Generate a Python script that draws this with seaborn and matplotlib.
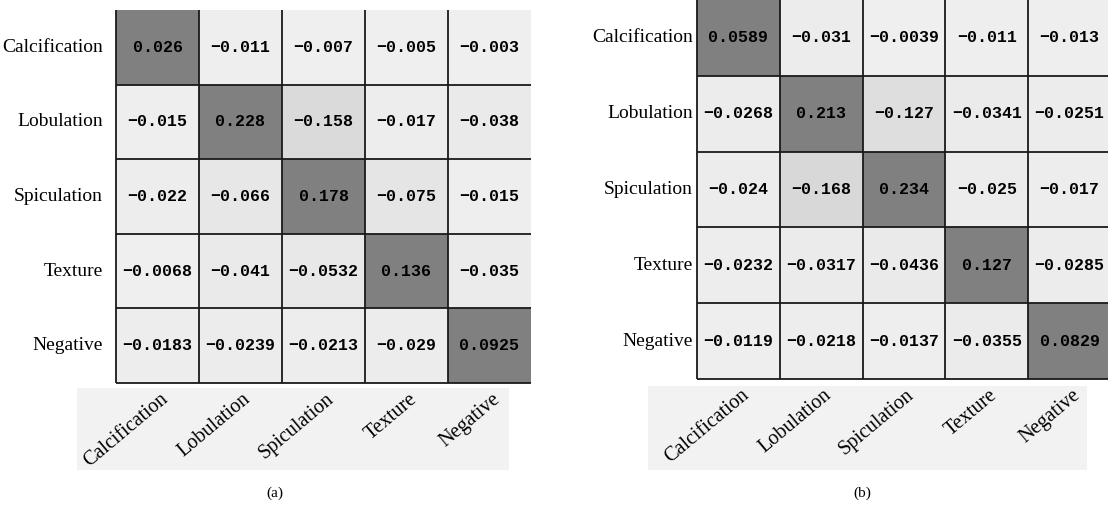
import numpy as np
import pandas as pd
import seaborn as sns
import matplotlib
matplotlib.use("Agg")
import matplotlib.pyplot as plt
from matplotlib.colors import LinearSegmentedColormap
from matplotlib.patches import Rectangle
from matplotlib.transforms import ScaledTranslation

# Feature names shared by both matrices
features = ["Calcification", "Lobulation", "Spiculation", "Texture", "Negative"]

# Matrix (a)
values_a = [
    [0.026, -0.011, -0.007, -0.005, -0.003],
    [-0.015, 0.228, -0.158, -0.017, -0.038],
    [-0.022, -0.066, 0.178, -0.075, -0.015],
    [-0.0068, -0.041, -0.0532, 0.136, -0.035],
    [-0.0183, -0.0239, -0.0213, -0.029, 0.0925],
]

# Matrix (b)
values_b = [
    [0.0589, -0.031, -0.0039, -0.011, -0.013],
    [-0.0268, 0.213, -0.127, -0.0341, -0.0251],
    [-0.024, -0.168, 0.234, -0.025, -0.017],
    [-0.0232, -0.0317, -0.0436, 0.127, -0.0285],
    [-0.0119, -0.0218, -0.0137, -0.0355, 0.0829],
]

captions = ["(a)", "(b)"]

sns.set_theme(style="white")
plt.rcParams["font.family"] = ["Liberation Serif", "DejaVu Serif"]

W, H = 1108, 509
fig = plt.figure(figsize=(W / 100, H / 100), dpi=100)


def px_rect(x0, y0, x1, y1):
    """Figure-fraction rectangle from pixel edges measured from the top-left."""
    return [x0 / W, 1 - y1 / H, (x1 - x0) / W, (y1 - y0) / H]


# Negative weights fade from light grey to near white, positive weights are mid grey
lo, light, dark = 0.805, 0.94, 0.5
cdict = {c: [(0.0, lo, lo), (0.5, light, dark), (1.0, dark, dark)]
         for c in ("red", "green", "blue")}
cmap = LinearSegmentedColormap("weights", cdict)

panels = [
    dict(values=values_a, rect=(116, 10, 531, 383), ypad=9.5,
         box=(77, 388, 509, 470), cap_x=275),
    dict(values=values_b, rect=(697, 0, 1111, 379), ypad=3,
         box=(648, 386, 1087, 470), cap_x=862),
]

for panel, caption in zip(panels, captions):
    ax = fig.add_axes(px_rect(*panel["rect"]))
    df = pd.DataFrame(panel["values"], index=features, columns=features)
    labels = df.map(lambda v: repr(v).replace("-", "\u2212"))
    sns.heatmap(
        df, ax=ax, cmap=cmap, vmin=-0.25, vmax=0.25, cbar=False,
        annot=labels, fmt="", linewidths=0,
        annot_kws=dict(family=["Liberation Mono", "DejaVu Sans Mono"],
                       weight="bold", size=12, color="black"),
    )
    n = len(features)
    # cell borders: left and bottom edges plus the inner grid
    ax.hlines(np.arange(1, n + 1), 0, n, colors="#1a1a1a", lw=1.3, clip_on=False)
    ax.vlines(np.arange(0, n), 0, n, colors="#1a1a1a", lw=1.3, clip_on=False)

    ax.tick_params(axis="both", length=0)
    ax.tick_params(axis="y", pad=panel["ypad"])
    ax.tick_params(axis="x", pad=10)
    ax.set_yticklabels(features, rotation=0, fontsize=14, color="black")
    ax.set_xticklabels(features, rotation=40, ha="right", va="center",
                       rotation_mode="anchor", fontsize=14.5, color="black")
    shift = ScaledTranslation(8 / 100, 0, fig.dpi_scale_trans)
    for lbl in ax.get_xticklabels():
        lbl.set_transform(lbl.get_transform() + shift)
    ax.set_xlabel("")
    ax.set_ylabel("")

    # light panel behind the rotated column names
    bx0, by0, bx1, by1 = panel["box"]
    fig.add_artist(Rectangle((bx0 / W, 1 - by1 / H), (bx1 - bx0) / W, (by1 - by0) / H,
                             transform=fig.transFigure, facecolor="#f2f2f2",
                             edgecolor="none", zorder=-1))

    fig.text(panel["cap_x"] / W, 1 - 493 / H, caption, ha="center", va="center",
             fontsize=11, color="black")

fig.savefig("out.png", dpi=100, facecolor="white")
